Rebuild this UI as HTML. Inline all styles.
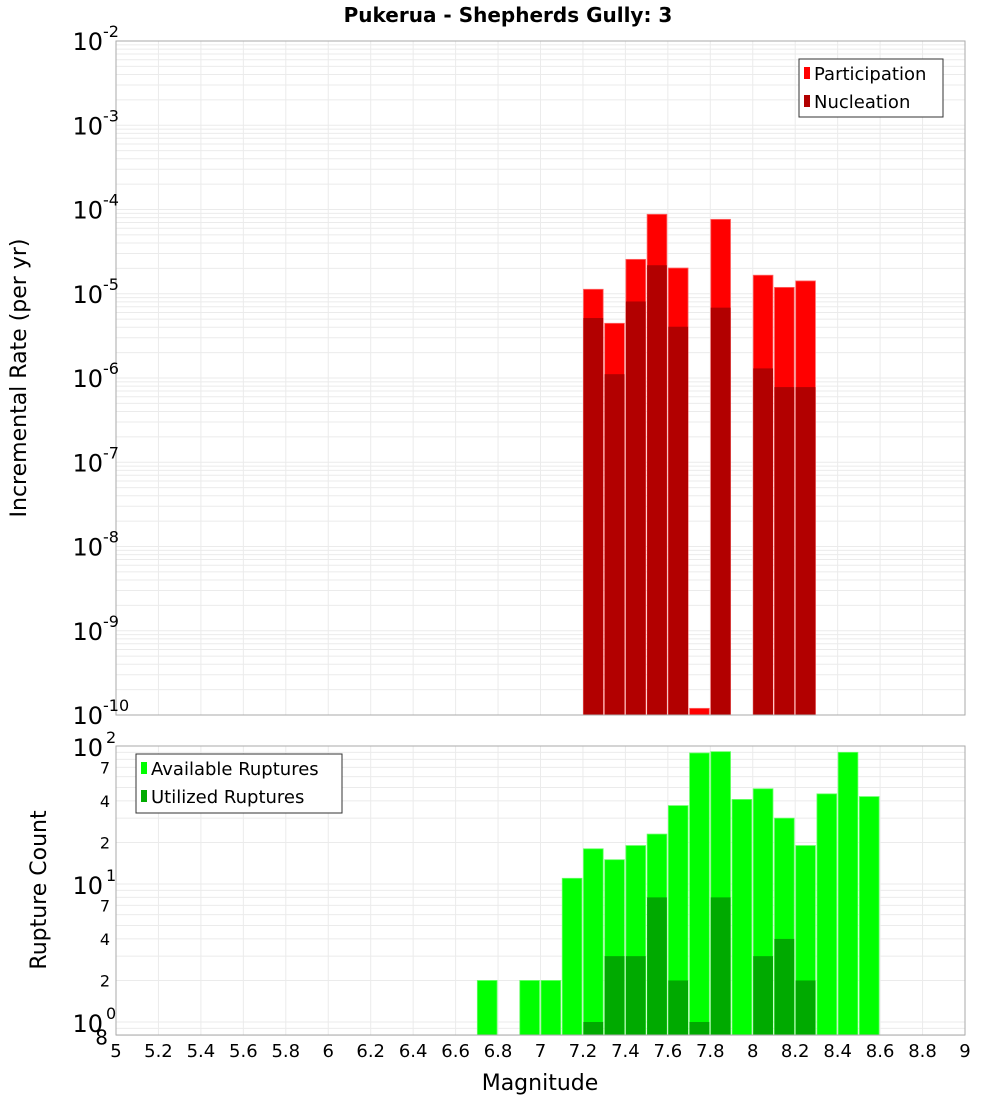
<!DOCTYPE html>
<html><head><meta charset="utf-8"><style>
html,body{margin:0;padding:0;background:#fff;}
svg{display:block;font-family:"DejaVu Sans","Liberation Sans",sans-serif;}
</style></head><body>
<svg id="c" width="1000" height="1100" xmlns="http://www.w3.org/2000/svg"></svg>
<script>
// ---- data ----
const magBins = [6.75,6.85,6.95,7.05,7.15,7.25,7.35,7.45,7.55,7.65,7.75,7.85,7.95,8.05,8.15,8.25,8.35,8.45,8.55];
const participation = [null,null,null,null,null,1.13e-5,4.46e-6,2.56e-5,8.77e-5,2.02e-5,1.2e-10,7.64e-5,null,1.66e-5,1.19e-5,1.42e-5,null,null,null];
const nucleation = [null,null,null,null,null,5.15e-6,1.11e-6,8.1e-6,2.18e-5,4.06e-6,null,6.84e-6,null,1.3e-6,7.8e-7,7.8e-7,null,null,null];
const available = [2,null,2,2,11,18,15,19,23,37,89,91,41,49,30,19,45,90,43];
const utilized = [null,null,null,null,null,1,3,3,8,2,1,8,null,3,4,2,null,null,null];
const xTicks = [5,5.2,5.4,5.6,5.8,6,6.2,6.4,6.6,6.8,7,7.2,7.4,7.6,7.8,8,8.2,8.4,8.6,8.8,9];
const topDecades = [-2,-3,-4,-5,-6,-7,-8,-9,-10];
const botMinorLabels = [2,4,7,20,40,70];

// ---- layout ----
const NS="http://www.w3.org/2000/svg";
const svg=document.getElementById('c');
const L=116,R=965;
const T1=41,B1=715, T2=746,B2=1035;
const xs=m=>L+(m-5)/4*(R-L);
const y1=v=>T1+(-2-Math.log10(v))/8*(B1-T1);
const y2=v=>1022-Math.log10(v)*138;
function el(tag,attrs,parent){const e=document.createElementNS(NS,tag);for(const k in attrs)e.setAttribute(k,attrs[k]);(parent||svg).appendChild(e);return e;}
function txt(s,attrs,parent){const e=el('text',attrs,parent);e.textContent=s;return e;}

// title
const title=txt('Pukerua - Shepherds Gully: 3',{x:508,y:22,'text-anchor':'middle','font-size':20,'font-weight':'bold'});



// ---- panel backgrounds + grids ----
function grid(top,bot,yf,vmin,vmax,gname){
  const g=el('g',{});
  
  
  xTicks.forEach(m=>{el('line',{x1:xs(m),x2:xs(m),y1:top,y2:bot,stroke:'#ebebeb','stroke-width':1},g);});
  for(let d=Math.floor(Math.log10(vmin));d<=Math.ceil(Math.log10(vmax));d++){
    for(let k=1;k<10;k++){const v=k*Math.pow(10,d);if(v<vmin||v>vmax)continue;const y=yf(v);
      el('line',{x1:L,x2:R,y1:y,y2:y,stroke:'#ebebeb','stroke-width':1},g);}
  }
}
grid(T1,B1,y1,1e-10,1e-2,'top-grid');
grid(T2,B2,y2,0.8,100,'bottom-grid');

// ---- top bars ----
const gTop=el('g',{});


magBins.forEach((m,i)=>{
  const x0=xs(m-0.05)+0.5,w=xs(m+0.05)-xs(m-0.05)-1.5;
  if(participation[i]!=null){const y=y1(participation[i]);
    const r=el('rect',{x:x0,y:y,width:w,height:B1-y,fill:'#ff0000',stroke:'#ff6666','stroke-width':0.8},gTop);
    
    }
  if(nucleation[i]!=null){const y=y1(nucleation[i]);
    const r=el('rect',{x:x0,y:y,width:w,height:B1-y,fill:'#b20000'},gTop);
    
    }
});
// ---- bottom bars ----
const gBot=el('g',{});


magBins.forEach((m,i)=>{
  const x0=xs(m-0.05)+0.5,w=xs(m+0.05)-xs(m-0.05)-1.5;
  if(available[i]!=null){const y=y2(available[i]);
    const r=el('rect',{x:x0,y:y,width:w,height:B2-y,fill:'#00ff00',stroke:'#66ff66','stroke-width':0.8},gBot);
    
    }
  if(utilized[i]!=null){const y=y2(utilized[i]);
    const r=el('rect',{x:x0,y:y,width:w,height:B2-y,fill:'#00aa00'},gBot);
    
    }
});

// frames
const f1=el('rect',{x:L,y:T1,width:R-L,height:B1-T1,fill:'none',stroke:'#aaa'});


const f2=el('rect',{x:L,y:T2,width:R-L,height:B2-T2,fill:'none',stroke:'#aaa'});



// ---- top y ticks ----
topDecades.forEach(d=>{
  const y=y1(Math.pow(10,d));
  const t=txt('10',{x:103,y:y+9,'text-anchor':'end','font-size':24});
  
  
  const s=txt(String(d),{x:103,y:y-4,'font-size':16});
  
  
});
// ---- bottom y ticks ----
[0,1,2].forEach(d=>{
  const y=y2(Math.pow(10,d));
  const t=txt('10',{x:103,y:y+10,'text-anchor':'end','font-size':24});
  
  
  const s=txt(String(d),{x:106,y:y-3,'font-size':16});
  
  
});
botMinorLabels.forEach(v=>{
  const t=txt(String(v%10===0?v/10:v),{x:110,y:y2(v)+6,'text-anchor':'end','font-size':16});
  
  
});
const t8=txt('8',{x:108,y:y2(0.8)+9,'text-anchor':'end','font-size':20});



// ---- x ticks ----
xTicks.forEach(m=>{
  const t=txt(String(m),{x:xs(m),y:1057,'text-anchor':'middle','font-size':18});
  
  
});
const xt=txt('Magnitude',{x:540,y:1090,'text-anchor':'middle','font-size':22});


const yt1=txt('Incremental Rate (per yr)',{x:0,y:0,'text-anchor':'middle','font-size':22,transform:'translate(26,378) rotate(-90)'});


const yt2=txt('Rupture Count',{x:0,y:0,'text-anchor':'middle','font-size':22,transform:'translate(46,890) rotate(-90)'});



// ---- legends ----
function legend(x,y,w,h,items,name){
  const g=el('g',{});
  
  
  el('rect',{x:x,y:y,width:w,height:h,fill:'#fff',stroke:'#333','stroke-width':1},g);
  items.forEach((it,i)=>{
    const cy=y+14+i*28;
    el('rect',{x:x+5,y:cy-6,width:6,height:12,fill:it[1]},g);
    const t=txt(it[0],{x:x+15,y:cy+7,'font-size':18},g);
    
    
  });
}
legend(799,59,144,58,[['Participation','#ff0000'],['Nucleation','#b20000']],'rate-legend');
legend(136,754,206,59,[['Available Ruptures','#00ff00'],['Utilized Ruptures','#00aa00']],'count-legend');
</script>
</body></html>
